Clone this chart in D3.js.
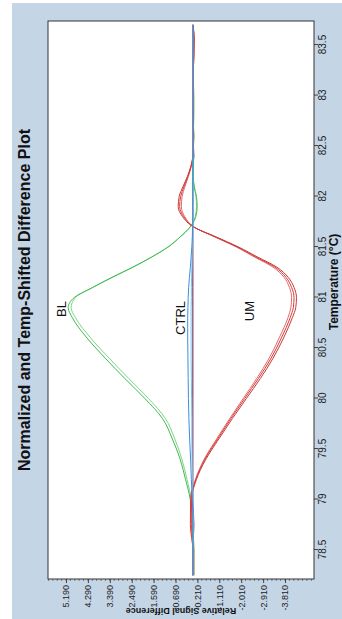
<!DOCTYPE html>
<html>
<head>
<meta charset="utf-8">
<script src="https://cdn.jsdelivr.net/npm/d3@7"></script>
<style>
    body { margin: 0; background: #fff; }
    svg { display: block; font-family: "Liberation Sans", Arial, sans-serif; }
</style>
</head>
<body>
<div id="chart"></div>
<script>
// temperature grid (°C) shared by all traces
const temps = [78.25, 78.5, 78.75, 79.0, 79.2, 79.4, 79.6, 79.8, 80.0, 80.2, 80.4, 80.6, 80.8, 80.9,
    81.0, 81.1, 81.2, 81.3, 81.4, 81.5, 81.6, 81.7, 81.8, 81.9, 82.0, 82.1, 82.2, 82.3, 82.4,
    82.6, 82.8, 83.0, 83.2, 83.4, 83.55, 83.7];

const tempTicks = [78.5, 79, 79.5, 80, 80.5, 81, 81.5, 82, 82.5, 83, 83.5];
const rsdTicks = [5.19, 4.29, 3.39, 2.49, 1.59, 0.69, -0.21, -1.11, -2.01, -2.91, -3.81];

// relative signal difference per trace
const bl1 = [-0.03, -0.03, -0.02, 0.08, 0.28, 0.50, 0.82, 1.22, 1.95, 2.78, 3.58, 4.33, 4.93, 5.10,
    4.85, 4.10, 3.30, 2.45, 1.68, 1.00, 0.50, 0.08, -0.14, -0.20, -0.17, -0.08, -0.04, -0.05, -0.05,
    -0.05, -0.04, -0.02, -0.02, -0.02, -0.02, -0.02];
const bl2 = [-0.03, -0.03, -0.03, 0.04, 0.22, 0.43, 0.72, 1.10, 1.80, 2.62, 3.42, 4.18, 4.80, 4.98,
    4.80, 4.08, 3.28, 2.44, 1.67, 0.99, 0.50, 0.09, -0.12, -0.17, -0.15, -0.07, -0.03, -0.03, -0.03,
    -0.03, -0.07, -0.07, -0.03, -0.03, -0.03, -0.03];
const um1 = [-0.02, -0.02, 0.08, 0.06, -0.15, -0.52, -1.04, -1.58, -2.15, -2.72, -3.24, -3.66, -4.02, -4.15,
    -4.18, -4.08, -3.85, -3.40, -2.62, -1.85, -0.95, -0.05, 0.35, 0.52, 0.48, 0.34, 0.18, 0.05, -0.02,
    -0.03, -0.03, -0.03, -0.03, -0.07, -0.08, -0.03];
const um2 = [-0.02, -0.02, 0.04, 0.08, -0.13, -0.49, -1.00, -1.53, -2.09, -2.65, -3.16, -3.57, -3.93, -4.05,
    -4.08, -3.99, -3.77, -3.32, -2.56, -1.81, -0.92, -0.06, 0.31, 0.45, 0.42, 0.30, 0.16, 0.04, -0.02,
    -0.03, -0.03, -0.03, -0.03, -0.07, -0.07, -0.03];
const um3 = [-0.02, -0.02, 0.02, 0.03, -0.17, -0.56, -1.09, -1.64, -2.22, -2.80, -3.32, -3.75, -4.11, -4.25,
    -4.28, -4.18, -3.94, -3.48, -2.69, -1.90, -0.98, -0.04, 0.40, 0.58, 0.54, 0.38, 0.20, 0.06, -0.02,
    -0.03, -0.03, -0.03, -0.03, -0.03, -0.07, -0.03];
const ctrl1 = [-0.02, -0.02, -0.02, 0.00, 0.04, 0.07, 0.11, 0.14, 0.16, 0.17, 0.18, 0.19, 0.19, 0.18,
    0.17, 0.15, 0.12, 0.08, 0.05, 0.02, 0.00, -0.01, -0.02, -0.02, -0.02, -0.02, -0.02, -0.02, -0.02,
    -0.02, -0.02, -0.02, -0.02, -0.02, -0.02, -0.02];
const ctrl2 = [-0.02, -0.02, -0.02, -0.02, -0.01, 0.01, 0.02, 0.02, 0.03, 0.04, 0.05, 0.05, 0.05, 0.05,
    0.04, 0.04, 0.03, 0.02, 0.01, 0.00, -0.02, -0.02, -0.02, -0.02, -0.02, -0.02, -0.02, -0.02, -0.02,
    -0.02, -0.02, -0.02, -0.02, -0.02, -0.02, -0.02];
// flat traces mostly hidden under the control line
const flatA = [-0.07, -0.07, -0.02, -0.02, -0.02, -0.02, -0.02, -0.02, -0.02, -0.02, -0.02, -0.02, -0.02, -0.02,
    -0.02, -0.02, -0.02, -0.02, -0.02, -0.02, -0.02, -0.02, -0.02, -0.02, -0.02, -0.02, -0.02, -0.02, -0.02,
    -0.07, -0.02, -0.02, -0.02, -0.02, -0.02, -0.02];
const flatB = [-0.02, -0.02, -0.07, -0.02, -0.02, -0.02, -0.02, -0.02, -0.02, -0.02, -0.02, -0.02, -0.02, -0.02,
    -0.02, -0.02, -0.02, -0.02, -0.02, -0.02, -0.02, -0.02, -0.02, -0.02, -0.02, -0.02, -0.02, -0.02, -0.07,
    -0.02, -0.02, -0.02, -0.02, -0.02, -0.02, -0.02];

const curveLabels = [
    { text: "BL", value: 5.2 },
    { text: "CTRL", value: 0.3 },
    { text: "UM", value: -2.55 }
];

// chart is drawn upright (619 x 342) then turned a quarter left
const W = 619, H = 342;
const plot = { left: 40, right: 598, top: 48, bottom: 314 };

const svg = d3.select("#chart").append("svg")
    .attr("width", H)
    .attr("height", W);

const root = svg.append("g")
    .attr("transform", `translate(0, ${W}) rotate(-90)`);

root.append("rect")
    .attr("x", 0).attr("y", 12)
    .attr("width", 616).attr("height", 330)
    .attr("fill", "#c4d5e6");

root.append("rect")
    .attr("x", plot.left).attr("y", plot.top)
    .attr("width", plot.right - plot.left).attr("height", plot.bottom - plot.top)
    .attr("fill", "#fff");

const xScale = d3.scaleLinear().domain([78.213, 83.738]).range([plot.left, plot.right]);
const yScale = d3.scaleLinear().domain([-5.0, 5.93]).range([plot.bottom, plot.top]);

// temperature axis
const xAxis = root.append("g")
    .attr("transform", `translate(0, ${plot.bottom})`)
    .call(d3.axisBottom(xScale).tickValues(tempTicks).tickSize(4).tickPadding(1).tickFormat((d) => d));
xAxis.select(".domain").remove();
xAxis.selectAll("line").attr("stroke", "#444");
xAxis.selectAll("text").attr("font-size", 10).attr("font-family", "Liberation Sans, Arial").attr("fill", "#222");

// minor ticks on signal axis
const minor = d3.range(-4.89, 5.93, 0.18);
root.append("g")
    .selectAll("line")
    .data(minor)
    .enter()
    .append("line")
    .attr("x1", plot.left).attr("x2", plot.left - 2)
    .attr("y1", (d) => yScale(d)).attr("y2", (d) => yScale(d))
    .attr("stroke", "#777");

const yAxis = root.append("g")
    .attr("transform", `translate(${plot.left}, 0)`)
    .call(d3.axisLeft(yScale).tickValues(rsdTicks).tickSize(4).tickPadding(2).tickFormat((d) => d.toFixed(3)));
yAxis.select(".domain").remove();
yAxis.selectAll("line").attr("stroke", "#444");
yAxis.selectAll("text").attr("font-size", 9)
    .attr("font-family", "'Liberation Sans Narrow', 'Arial Narrow', 'Liberation Sans', Arial")
    .attr("fill", "#222");

root.append("rect")
    .attr("x", plot.left).attr("y", plot.top)
    .attr("width", plot.right - plot.left).attr("height", plot.bottom - plot.top)
    .attr("fill", "none")
    .attr("stroke", "#333")
    .attr("stroke-width", 1);

// traces
const traces = [
    { values: flatA, color: "#8a7a2e" },
    { values: flatB, color: "#8e4fa6" },
    { values: bl2, color: "#7fd487" },
    { values: bl1, color: "#3fbb4f" },
    { values: um2, color: "#e26a6a" },
    { values: um1, color: "#d93838" },
    { values: um3, color: "#c83a3a" },
    { values: ctrl2, color: "#7cbfee" },
    { values: ctrl1, color: "#3a8ede" }
];

root.append("clipPath").attr("id", "plotClip")
    .append("rect")
    .attr("x", plot.left).attr("y", plot.top)
    .attr("width", plot.right - plot.left).attr("height", plot.bottom - plot.top);

const line = d3.line()
    .x((d) => xScale(d[0]))
    .y((d) => yScale(d[1]))
    .curve(d3.curveMonotoneX);

root.append("g")
    .attr("clip-path", "url(#plotClip)")
    .selectAll("path")
    .data(traces)
    .enter()
    .append("path")
    .attr("d", (t) => line(temps.map((tp, i) => [tp, t.values[i]])))
    .attr("fill", "none")
    .attr("stroke", (t) => t.color)
    .attr("stroke-width", 1);

// curve names
root.append("g")
    .selectAll("text")
    .data(curveLabels)
    .enter()
    .append("text")
    .attr("x", 318)
    .attr("y", (d) => yScale(d.value))
    .attr("text-anchor", "end")
    .attr("font-size", 13)
    .attr("fill", "#111")
    .text((d) => d.text);

// titles
root.append("text")
    .attr("x", (plot.left + plot.right) / 2)
    .attr("y", 30)
    .attr("text-anchor", "middle")
    .attr("font-size", 16)
    .attr("font-weight", "bold")
    .attr("fill", "#111")
    .text("Normalized and Temp-Shifted Difference Plot");

root.append("text")
    .attr("x", 337)
    .attr("y", 338)
    .attr("text-anchor", "middle")
    .attr("font-size", 12)
    .attr("font-weight", "bold")
    .attr("fill", "#111")
    .text("Temperature (°C)");

root.append("text")
    .attr("transform", `translate(11, ${(plot.top + plot.bottom) / 2}) rotate(-90)`)
    .attr("text-anchor", "middle")
    .attr("font-size", 9)
    .attr("font-weight", "bold")
    .attr("fill", "#111")
    .text("Relative Signal Difference");
</script>
</body>
</html>
